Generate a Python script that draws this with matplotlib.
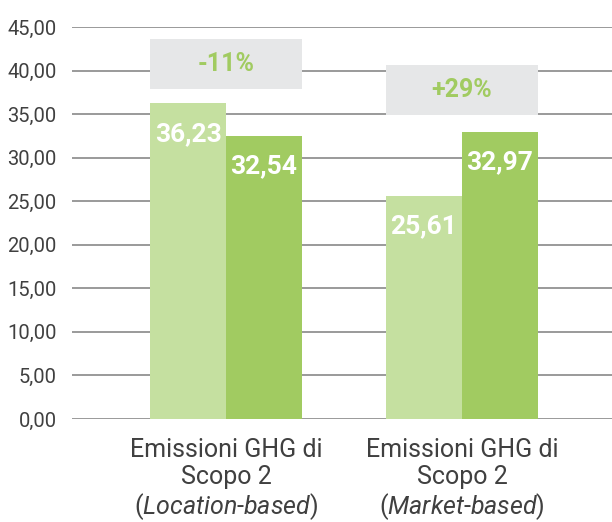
import numpy as np
import matplotlib.pyplot as plt
from matplotlib.patches import Rectangle

plt.rcParams['font.family'] = ['Roboto', 'DejaVu Sans']
plt.rcParams['mathtext.fontset'] = 'custom'
plt.rcParams['mathtext.rm'] = 'Roboto'
plt.rcParams['mathtext.it'] = 'Roboto:italic'

categories = ['Emissioni GHG di\nScopo 2\n($\\it{Location}$-$\\it{based}$)',
              'Emissioni GHG di\nScopo 2\n($\\it{Market}$-$\\it{based}$)']
prev_year = [36.23, 25.61]
curr_year = [32.54, 32.97]
changes = ['-11%', '+29%']
yticks = np.arange(0, 46, 5)

light_green = '#c5e0a0'
dark_green = '#a1cb61'
box_grey = '#e6e7e8'
text_grey = '#404040'

fig = plt.figure(figsize=(6.12, 5.22), dpi=100)
ax = fig.add_axes([72 / 612, 103 / 522, 540 / 612, 392 / 522])

x = np.arange(len(categories))
w = 0.322
b1 = ax.bar(x - w / 2, prev_year, w, color=light_green, zorder=2)
b2 = ax.bar(x + w / 2, curr_year, w, color=dark_green, zorder=2)

for bars, vals in ((b1, prev_year), (b2, curr_year)):
    for rect, v in zip(bars, vals):
        ax.annotate(f"{v:.2f}".replace('.', ','),
                    xy=(rect.get_x() + rect.get_width() / 2, rect.get_height()),
                    xytext=(0, -22), textcoords='offset points',
                    ha='center', va='center', color='white',
                    fontsize=19, fontweight='bold', zorder=3)

# change boxes
for i, lab in enumerate(changes):
    top = max(prev_year[i], curr_year[i])
    y0 = top + 1.6 if i == 0 else top + 1.9
    ax.add_patch(Rectangle((i - w, y0), 2 * w, 5.75, facecolor=box_grey,
                           edgecolor='none', zorder=3))
    ax.text(i, y0 + 5.75 / 2, lab, ha='center', va='center', color=dark_green,
            fontsize=18, fontweight='bold', zorder=4)

ax.set_xlim(-0.653, 1.636)
ax.set_ylim(0, 45)
ax.set_yticks(yticks)
ax.set_yticklabels([f"{t:.2f}".replace('.', ',') for t in yticks])
ax.set_xticks(x)
ax.set_xticklabels(categories, fontsize=18, color=text_grey, linespacing=1.12)
ax.tick_params(axis='y', length=0, pad=11, labelsize=14.5, labelcolor=text_grey)
ax.tick_params(axis='x', length=0, pad=14)
for s in ax.spines.values():
    s.set_visible(False)
ax.grid(axis='y', color='#7f7f7f', linewidth=1.1, zorder=0)
ax.set_axisbelow(True)

fig.savefig('out.png', dpi=100)
